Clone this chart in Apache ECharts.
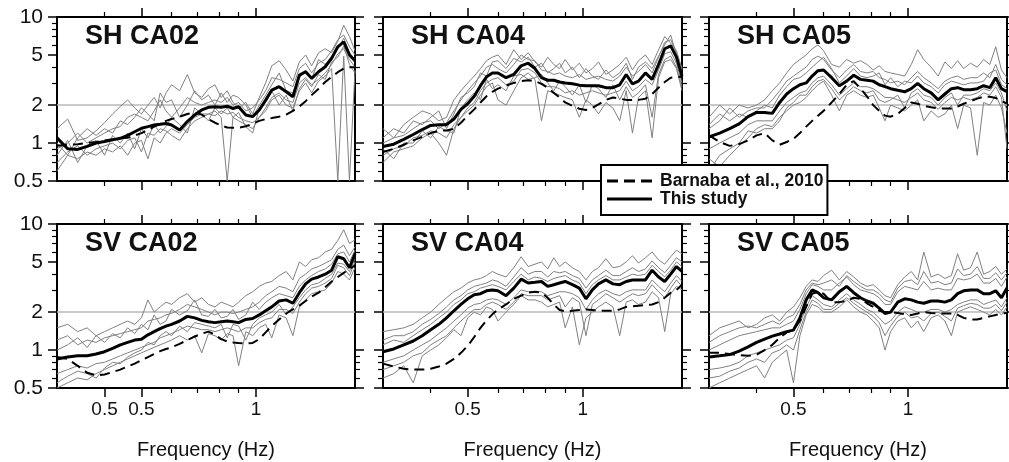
<!DOCTYPE html>
<html><head><meta charset="utf-8">
<script src="https://cdn.jsdelivr.net/npm/echarts@6/dist/echarts.min.js"></script>
<style>html,body{margin:0;padding:0;background:#fff}#c{width:1009px;height:462px}</style>
</head><body><div id="c"></div>
<script>
// ---------- data ----------
const freqHz = [0.30,0.32,0.34,0.36,0.38,0.40,0.42,0.44,0.46,0.48,0.50,0.52,0.54,0.56,0.58,0.60,0.63,0.66,0.69,0.72,0.75,0.78,0.81,0.84,0.87,0.90,0.94,0.98,1.02,1.06,1.10,1.15,1.20,1.25,1.30,1.35,1.40,1.46,1.52,1.58,1.64,1.70,1.76,1.82];
const xRange = [0.3, 1.82];
const yRange = [0.5, 10];
const refLevel = 2;
const yTicksMajor = [0.5, 1, 2, 5, 10];
const yTicksMinor = [0.6, 0.7, 0.8, 0.9, 3, 4, 6, 7, 8, 9];
const yTickLabels = ['0.5', '1', '2', '5', '10'];
const xTicksMajor = [0.5, 1];
const xTicksMinor = [0.4, 0.6, 0.7, 0.8, 0.9];
const xLabelValsFirst = [0.4, 0.5, 1];
const xLabelTextsFirst = ['0.5', '0.5', '1'];
const xLabelVals = [0.5, 1];
const xLabelTexts = ['0.5', '1'];
const panelTitles = ['SH CA02', 'SH CA04', 'SH CA05', 'SV CA02', 'SV CA04', 'SV CA05'];
const legendNames = ['Barnaba et al., 2010', 'This study'];
const xAxisName = 'Frequency (Hz)';

// SH CA02
const meanShCa02 = [1.1,0.9,0.89,0.94,1.0,1.03,1.06,1.09,1.15,1.23,1.31,1.35,1.39,1.41,1.43,1.39,1.27,1.48,1.67,1.83,1.92,1.94,1.92,1.96,1.88,1.94,1.67,1.62,1.83,2.19,2.63,2.8,2.55,2.33,3.46,3.68,3.26,3.68,4.03,4.7,5.8,6.35,5.0,4.5];
const barnabaShCa02 = [0.95,0.97,0.98,1.0,1.02,1.05,1.07,1.09,1.1,1.15,1.2,1.27,1.35,1.42,1.5,1.55,1.62,1.7,1.75,1.68,1.55,1.45,1.38,1.33,1.32,1.32,1.36,1.42,1.5,1.55,1.58,1.62,1.68,1.8,1.95,2.15,2.4,2.7,3.05,3.35,3.65,3.9,4.0,4.0];
const tracesShCa02 = [
 [1.3,1.55,1.05,1.1,1.25,1.45,1.7,1.95,2.2,1.9,1.7,2.0,2.3,1.9,2.5,2.9,2.6,3.5,2.5,2.3,2.7,2.9,2.3,2.6,2.1,1.9,2.1,1.7,2.3,3.0,4.1,4.5,3.8,3.1,4.4,5.0,4.1,5.2,5.6,5.2,6.4,8.6,7.0,5.4],
 [0.6,0.8,0.75,0.85,0.8,0.9,0.85,0.95,0.8,1.0,1.05,0.75,1.1,1.0,1.2,1.3,1.2,1.4,1.6,1.7,1.7,1.8,1.6,0.5,1.6,1.5,1.4,1.3,1.6,1.8,2.2,2.4,2.0,1.9,2.6,3.0,2.5,3.1,3.4,3.9,0.5,4.9,0.5,3.8],
 [0.9,1.0,1.2,1.0,1.1,1.2,1.3,1.35,1.6,1.7,1.6,1.5,1.8,2.2,1.8,1.6,1.9,2.3,2.1,2.0,2.1,2.2,2.1,2.3,2.0,2.1,1.8,1.9,2.2,2.6,3.3,3.2,3.0,2.8,3.9,4.3,3.6,4.3,4.6,5.4,6.6,7.2,5.8,5.0],
 [0.7,0.85,0.95,0.8,0.9,0.95,1.0,0.9,1.05,1.1,0.85,1.2,1.15,1.3,1.25,1.15,1.05,1.3,1.5,1.6,1.7,1.65,1.8,1.7,1.75,1.6,1.5,1.45,1.6,1.9,2.3,2.5,2.2,2.1,3.0,3.3,2.9,3.2,3.6,4.2,5.1,5.6,4.6,4.0],
 [1.0,0.8,1.1,1.3,1.15,1.3,1.2,1.5,1.4,1.6,1.9,1.7,1.5,2.5,2.1,2.2,1.6,2.0,2.6,2.2,2.4,2.0,2.5,2.1,2.4,2.3,2.0,1.6,2.0,2.4,2.9,3.6,2.6,2.5,3.3,3.8,3.2,4.6,4.2,4.9,5.6,6.8,5.2,4.6],
 [0.8,1.05,0.7,0.95,1.05,0.8,1.15,1.0,1.2,0.9,1.3,1.1,1.4,1.2,1.35,1.6,1.4,1.2,1.9,1.7,1.5,1.9,1.7,1.9,1.6,1.75,1.35,1.2,1.9,2.1,2.6,2.0,2.4,1.8,2.7,3.2,2.8,3.5,3.2,4.4,4.8,5.9,4.2,3.6]
];
// SH CA04
const meanShCa04 = [0.94,0.98,1.07,1.17,1.28,1.38,1.40,1.40,1.55,1.85,2.05,2.35,2.85,3.35,3.6,3.6,3.3,3.5,4.1,4.3,3.9,3.3,3.15,3.15,3.05,3.0,2.95,2.88,2.85,2.85,2.85,2.75,2.75,2.9,3.5,2.95,3.1,3.6,3.2,4.2,5.6,5.9,4.8,3.4];
const barnabaShCa04 = [0.85,0.9,0.97,1.05,1.12,1.2,1.25,1.26,1.3,1.45,1.65,1.85,2.1,2.35,2.55,2.7,2.85,3.0,3.1,3.15,3.1,2.95,2.75,2.5,2.3,2.1,1.97,1.87,1.83,1.9,2.03,2.2,2.3,2.25,2.2,2.2,2.2,2.25,2.45,2.75,3.05,3.3,3.35,3.35];
const tracesShCa04 = [
 [1.3,1.1,1.4,1.6,1.8,1.7,1.5,1.6,2.2,2.6,3.0,3.4,3.9,4.5,4.8,5.0,4.2,5.5,4.6,5.2,4.4,4.0,4.8,4.2,3.9,4.6,3.8,4.3,3.6,3.9,4.4,3.5,3.8,4.2,4.8,3.8,4.5,5.0,4.2,5.5,7.0,6.2,5.4,3.8],
 [0.7,0.85,0.9,0.95,1.1,1.2,1.0,0.8,1.3,1.6,1.8,2.0,2.4,2.8,3.0,2.2,2.0,2.6,3.3,3.6,3.2,1.5,2.6,2.5,2.4,2.3,2.2,1.6,2.2,2.0,1.7,2.1,1.9,1.5,2.6,1.2,2.3,2.6,1.1,3.3,4.4,4.6,3.9,2.6],
 [1.0,1.1,1.15,1.3,1.45,1.5,1.3,1.45,1.8,2.2,2.6,3.0,3.4,4.0,4.2,3.9,3.6,4.2,5.0,4.6,4.5,3.8,3.7,3.5,3.6,3.4,3.3,3.5,3.2,3.3,3.4,3.2,3.1,3.4,4.0,3.4,3.7,4.2,3.6,4.8,6.3,6.6,5.3,3.9],
 [0.8,0.9,0.95,1.1,1.15,1.25,1.2,1.1,1.4,1.6,1.9,2.1,2.6,3.0,3.2,3.3,2.9,3.1,3.8,3.9,3.6,3.0,2.8,2.8,2.7,2.5,2.6,2.4,2.5,2.6,2.5,2.4,2.5,2.6,3.1,2.6,2.8,3.2,2.9,3.8,5.1,5.3,4.3,3.0],
 [1.1,1.3,1.2,1.5,1.4,1.6,1.8,1.3,1.7,2.3,2.5,2.8,3.6,3.4,4.4,4.5,3.9,4.7,4.4,4.8,4.0,4.3,3.6,3.9,4.3,3.6,4.0,3.3,3.9,3.4,3.2,3.8,3.3,3.6,4.3,3.2,4.0,4.4,3.9,4.9,6.0,7.2,5.0,3.5],
 [0.9,0.75,1.0,1.0,1.25,1.1,1.35,1.25,1.2,1.9,2.2,2.5,2.2,3.2,2.7,2.9,2.6,3.4,3.5,3.2,3.3,3.5,3.0,2.6,3.1,2.8,2.4,2.9,2.1,2.9,2.7,2.3,2.9,2.2,2.8,2.3,2.5,2.9,1.6,3.5,4.6,4.9,4.0,2.8]
];
// SH CA05
const meanShCa05 = [1.12,1.2,1.3,1.42,1.62,1.75,1.75,1.72,2.1,2.45,2.7,2.9,3.0,3.4,3.75,3.8,3.3,2.85,3.1,3.45,3.2,3.15,3.1,2.9,2.8,2.7,2.62,2.55,2.7,2.97,2.7,2.5,2.2,2.45,2.7,2.75,2.65,2.65,2.7,2.85,2.75,3.3,2.7,2.55];
const barnabaShCa05 = [1.15,1.02,0.95,0.98,1.05,1.15,1.2,1.05,0.97,1.02,1.08,1.2,1.35,1.5,1.65,1.8,2.1,2.45,2.9,3.1,2.7,2.35,2.0,1.8,1.65,1.62,1.7,1.9,2.1,2.05,1.97,1.92,1.88,1.88,1.88,1.95,2.05,2.15,2.25,2.33,2.33,2.28,2.15,2.06];
const tracesShCa05 = [
 [1.6,2.0,1.7,2.0,1.9,2.0,2.2,2.6,3.0,3.6,4.2,4.6,5.0,5.6,6.0,5.4,4.2,4.0,4.6,4.3,4.5,4.2,3.8,4.1,3.7,3.6,3.5,3.4,4.2,5.5,4.6,4.0,3.4,4.4,3.9,4.5,3.9,4.3,4.0,4.6,4.2,5.8,3.8,3.3],
 [0.75,0.65,0.8,0.95,1.1,1.3,1.4,1.35,1.6,1.8,2.0,2.1,2.3,2.6,2.9,3.1,2.4,1.8,2.4,2.6,2.4,2.3,2.4,1.9,1.5,2.0,1.9,1.8,2.0,2.2,1.5,1.8,1.6,1.7,2.0,1.3,2.0,1.9,0.8,2.1,2.0,2.4,1.9,1.2],
 [1.3,1.5,1.9,1.6,1.8,1.9,1.9,2.2,2.6,3.1,3.4,3.7,4.0,4.6,4.9,4.6,3.8,3.3,3.8,4.2,3.7,3.6,3.7,3.3,3.2,3.0,3.1,2.9,3.3,3.7,3.3,3.0,2.7,3.1,3.3,3.4,3.2,3.3,3.3,3.6,3.3,4.2,3.2,2.9],
 [0.9,1.0,1.1,1.2,1.4,1.5,1.5,1.5,1.8,2.1,2.3,2.5,2.6,3.0,3.3,3.4,2.9,2.4,2.7,3.0,2.8,2.8,2.7,2.5,2.3,2.3,2.2,2.1,2.3,2.5,2.2,2.1,1.85,2.1,2.3,2.2,2.3,2.2,2.3,2.5,2.4,2.8,2.3,0.9],
 [1.4,1.7,1.5,1.7,1.6,1.8,2.0,1.9,2.4,2.8,3.2,3.3,3.6,4.0,4.4,4.8,3.9,3.0,3.4,3.9,3.4,3.3,3.4,3.6,2.9,3.3,2.8,3.1,3.0,3.4,3.0,2.8,2.5,2.9,3.1,3.0,2.9,3.0,3.0,3.1,3.6,3.8,2.9,2.7],
 [0.6,0.8,0.9,1.0,1.25,1.2,1.3,1.3,1.5,1.9,2.1,2.4,2.4,2.8,3.1,3.2,2.7,2.2,2.5,2.8,2.6,2.5,2.6,2.2,2.1,2.2,2.4,1.9,2.5,2.7,2.4,2.3,2.0,2.3,2.5,2.0,2.4,2.4,2.5,2.7,2.6,3.0,2.5,1.8]
];
// SV CA02
const meanSvCa02 = [0.85,0.88,0.9,0.9,0.93,0.97,1.03,1.1,1.15,1.2,1.22,1.32,1.4,1.48,1.55,1.6,1.7,1.85,1.8,1.72,1.68,1.65,1.68,1.7,1.68,1.65,1.75,1.78,1.9,2.05,2.2,2.45,2.5,2.35,2.85,3.35,3.65,3.8,4.0,4.3,5.5,5.3,4.5,5.8];
const barnabaSvCa02 = [0.88,0.85,0.75,0.66,0.63,0.64,0.67,0.7,0.74,0.78,0.83,0.88,0.93,0.98,1.02,1.05,1.12,1.2,1.28,1.35,1.4,1.33,1.22,1.17,1.15,1.14,1.13,1.14,1.22,1.38,1.55,1.75,1.95,2.1,2.25,2.45,2.65,2.85,3.15,3.5,3.8,4.1,4.4,4.7];
const tracesSvCa02 = [
 [1.5,1.6,1.4,1.5,1.3,1.4,1.5,1.6,1.7,1.6,1.8,2.5,2.0,2.2,2.4,2.3,2.6,2.8,2.4,2.6,2.3,2.2,2.4,2.3,2.2,2.4,2.7,2.9,3.2,3.4,3.5,3.9,4.2,3.6,5.0,4.6,5.2,5.4,6.0,6.3,7.4,9.0,7.0,7.5],
 [0.5,0.55,0.6,0.58,0.65,0.7,0.75,0.8,0.85,0.9,0.95,1.0,1.05,1.1,1.15,1.2,1.3,1.2,1.3,0.95,1.35,1.3,1.2,1.35,1.3,0.75,1.4,1.3,1.5,1.6,1.25,1.9,1.8,1.3,2.2,2.5,2.8,2.9,3.0,3.4,4.2,4.0,3.6,4.5],
 [1.2,1.3,1.1,1.2,1.15,1.25,1.3,1.35,1.4,1.45,1.5,1.7,1.75,1.8,1.9,1.95,2.1,2.3,2.2,2.1,2.0,1.9,2.0,2.0,1.95,2.0,2.1,2.2,2.4,2.7,2.9,3.2,3.1,2.9,3.7,4.0,4.4,4.6,4.9,5.2,6.3,6.8,5.6,6.6],
 [0.65,0.7,0.75,0.72,0.78,0.8,0.85,0.9,0.95,1.0,1.05,1.1,1.15,1.25,1.3,1.35,1.45,1.55,1.5,1.45,1.45,1.4,1.45,1.5,1.45,1.4,1.5,1.5,1.65,1.75,1.8,2.1,2.1,1.95,2.4,2.8,3.1,3.2,3.4,3.7,4.7,4.5,3.9,5.0],
 [1.0,1.1,1.25,1.05,1.3,1.15,1.35,1.25,1.5,1.35,1.6,1.45,1.9,1.6,1.7,2.1,1.9,2.05,2.5,1.9,1.85,2.1,1.8,1.85,2.1,1.75,1.9,2.4,2.1,2.4,2.6,2.8,2.7,2.6,3.2,3.6,3.9,4.2,4.4,4.8,5.8,6.0,5.0,6.2],
 [0.55,0.62,0.68,0.65,0.6,0.72,0.8,0.78,0.88,0.95,1.0,1.15,1.1,1.3,1.4,1.3,1.55,1.4,1.65,1.6,1.55,1.5,1.6,1.25,1.6,1.55,1.2,1.6,1.8,1.9,2.0,2.3,1.9,2.2,2.6,3.0,3.3,3.4,3.7,4.0,4.9,4.8,4.2,5.3]
];
// SV CA04
const meanSvCa04 = [0.97,1.02,1.1,1.18,1.3,1.45,1.6,1.8,2.05,2.3,2.55,2.75,2.8,2.95,3.0,2.95,2.7,3.1,3.65,3.4,3.45,3.5,3.2,3.3,3.4,3.5,3.3,3.1,2.55,3.0,3.35,3.6,3.35,3.3,3.5,3.6,3.6,3.6,4.3,3.8,3.5,4.0,4.6,4.2];
const barnabaSvCa04 = [0.78,0.74,0.71,0.7,0.7,0.71,0.74,0.78,0.85,0.95,1.08,1.27,1.5,1.72,1.92,2.1,2.3,2.55,2.7,2.85,2.9,2.85,2.6,2.3,2.08,2.03,2.05,2.08,2.1,2.08,2.05,2.05,2.05,2.1,2.2,2.22,2.25,2.28,2.3,2.4,2.6,2.85,3.0,3.3];
const tracesSvCa04 = [
 [1.4,1.45,1.5,1.6,1.8,2.0,2.3,2.6,2.9,3.1,3.4,3.6,3.7,3.9,4.2,4.0,3.8,4.5,5.5,4.6,4.8,5.0,4.4,5.4,4.6,5.0,4.5,4.2,3.6,4.2,4.5,5.3,4.5,4.6,5.0,5.6,4.9,5.4,6.0,5.2,4.8,5.5,6.2,5.8],
 [0.6,0.65,0.75,0.55,0.9,1.0,1.1,1.25,1.45,1.3,1.8,2.0,1.9,2.2,2.1,1.7,2.0,2.3,2.7,2.5,2.5,2.4,2.2,2.3,2.4,1.5,2.2,1.1,1.8,2.0,2.2,2.4,2.2,1.3,2.4,2.5,2.3,2.4,2.9,2.6,1.4,2.8,3.2,3.0],
 [1.2,1.3,1.3,1.4,1.6,1.75,1.95,2.2,2.5,2.7,3.0,3.2,3.3,3.4,3.6,3.5,3.2,3.8,4.5,4.0,4.2,4.2,3.8,4.2,4.1,4.2,3.9,3.7,3.1,3.6,3.9,4.3,3.9,3.9,4.2,4.5,4.2,4.4,5.1,4.5,4.1,4.7,5.4,5.0],
 [0.8,0.85,0.9,1.0,1.1,1.2,1.35,1.5,1.7,1.9,2.15,2.3,2.35,2.5,2.55,2.5,2.3,2.6,3.0,2.9,2.9,2.9,2.7,2.8,2.9,2.9,2.8,2.6,2.1,2.5,2.8,3.0,2.8,2.7,2.9,3.0,3.0,3.0,3.6,3.2,2.9,3.4,3.9,3.5],
 [1.1,1.2,1.15,1.3,1.45,1.6,1.8,2.0,2.3,2.5,2.8,2.9,3.1,3.2,3.3,3.2,3.0,3.5,4.0,3.6,3.8,3.7,3.5,3.7,3.8,3.9,3.6,3.4,2.8,3.3,3.6,3.9,3.6,3.6,3.8,4.0,3.9,4.0,4.7,4.2,3.8,4.3,5.0,4.6],
 [0.7,0.75,0.8,0.9,0.95,1.1,1.2,1.3,1.5,1.7,1.9,2.1,2.1,2.3,2.4,2.3,2.1,2.4,2.8,2.7,2.7,2.7,2.5,2.6,2.7,2.2,2.6,2.4,1.3,2.3,2.5,2.8,2.6,2.4,2.6,2.8,2.7,2.8,3.3,2.9,2.6,3.1,3.6,3.2]
];
// SV CA05
const meanSvCa05 = [0.88,0.9,0.92,0.98,1.06,1.15,1.22,1.29,1.34,1.4,1.44,1.8,2.5,3.0,2.85,2.6,2.5,2.9,3.2,2.85,2.6,2.45,2.35,2.15,1.95,2.0,2.4,2.55,2.5,2.4,2.35,2.45,2.45,2.4,2.5,2.8,2.95,3.0,3.0,2.8,2.8,2.95,2.6,3.1];
const barnabaSvCa05 = [0.95,0.95,0.93,0.91,0.9,0.92,1.0,1.1,1.25,1.38,1.45,1.7,2.2,2.8,2.9,2.8,2.4,2.4,2.45,2.6,2.55,2.35,2.2,2.05,2.0,2.0,1.97,1.93,1.9,1.95,2.0,1.97,1.95,1.95,1.95,1.9,1.8,1.75,1.75,1.8,1.85,1.9,1.95,1.97];
const tracesSvCa05 = [
 [1.3,1.5,1.6,1.7,1.5,1.6,1.8,1.9,1.7,2.0,2.2,2.6,3.2,3.6,3.5,3.9,4.3,3.6,4.2,3.8,3.4,3.2,3.3,3.0,2.7,2.6,3.3,3.8,4.2,3.6,6.0,3.8,4.0,3.7,3.9,5.8,4.3,4.5,6.0,4.0,4.2,4.6,4.0,4.4],
 [0.5,0.55,0.6,0.65,0.7,0.75,0.6,0.8,0.9,1.0,0.55,1.3,1.9,2.3,2.2,2.0,2.0,2.2,2.5,2.2,2.0,1.9,1.7,1.5,1.0,1.4,1.7,1.8,1.5,1.7,1.4,1.8,1.9,1.7,1.3,2.0,2.1,2.2,2.1,2.0,1.9,2.1,1.9,2.2],
 [1.0,1.1,1.2,1.3,1.35,1.4,1.45,1.5,1.5,1.6,1.7,2.1,2.8,3.3,3.2,3.0,3.0,3.4,3.8,3.3,3.0,2.9,2.8,2.6,2.3,2.3,2.9,3.2,3.1,3.0,3.5,3.0,3.1,3.0,3.0,3.7,3.6,3.7,4.0,3.4,3.4,3.7,3.2,3.8],
 [0.7,0.72,0.75,0.8,0.9,0.95,1.0,1.05,1.1,1.2,1.25,1.6,2.2,2.7,2.5,2.3,2.2,2.5,2.8,2.5,2.3,2.1,2.0,1.8,1.6,1.7,2.0,2.2,2.1,2.0,2.0,2.1,2.1,2.0,2.1,2.3,2.4,2.5,2.5,2.3,2.4,2.5,2.2,2.6],
 [1.15,1.3,1.4,1.5,1.55,1.5,1.6,1.7,1.6,1.8,1.9,2.3,3.0,3.4,3.3,3.4,3.6,3.2,3.9,3.5,3.2,3.0,3.0,2.8,2.5,2.4,3.1,3.5,3.6,3.3,4.2,3.4,3.5,3.3,3.4,4.4,3.9,4.0,4.6,3.7,3.7,4.1,3.6,4.1],
 [0.6,0.62,0.68,0.72,0.8,0.85,0.8,0.95,1.0,1.1,1.0,1.45,2.0,2.5,2.35,2.1,2.1,2.35,2.6,2.35,2.15,2.0,1.85,1.65,1.3,1.55,1.85,2.0,1.8,1.85,1.7,1.95,2.0,1.85,1.7,2.15,2.25,2.35,2.3,2.15,2.15,2.3,2.05,2.4]
];

// ---------- chart ----------
const FONT = '"Liberation Sans", Arial, Helvetica, sans-serif';
const panels = [
  {mean: meanShCa02, barnaba: barnabaShCa02, traces: tracesShCa02},
  {mean: meanShCa04, barnaba: barnabaShCa04, traces: tracesShCa04},
  {mean: meanShCa05, barnaba: barnabaShCa05, traces: tracesShCa05},
  {mean: meanSvCa02, barnaba: barnabaSvCa02, traces: tracesSvCa02},
  {mean: meanSvCa04, barnaba: barnabaSvCa04, traces: tracesSvCa04},
  {mean: meanSvCa05, barnaba: barnabaSvCa05, traces: tracesSvCa05}
];
const colLeft = [57, 383, 709];
const colWidth = [298, 299, 298];
const rowTop = [17, 224];
const panelHeight = 164;
const X_PER = 5, Y_PER = 4;

const grids = [], xAxes = [], yAxes = [], series = [], titles = [];
const pairs = arr => freqHz.map((f, k) => [f, arr[k]]);
function pickLabel(vals, texts) {
  return v => { for (let k = 0; k < vals.length; k++) if (Math.abs(vals[k] - v) < 1e-6) return texts[k]; return ''; };
}
const majorTick = vals => ({show: true, inside: false, length: 9, customValues: vals.slice(), lineStyle: {color: '#000', width: 1.5}});
const minorTickDef = vals => ({show: true, inside: false, length: 5, customValues: vals.slice(), lineStyle: {color: '#000', width: 1.2}});

panels.forEach((p, i) => {
  const r = Math.floor(i / 3), c = i % 3;
  const bottomRow = r === 1, leftCol = c === 0;
  grids.push({left: colLeft[c], top: rowTop[r], width: colWidth[c], height: panelHeight, show: false});
  const xBase = () => ({type: 'log', logBase: 10, min: xRange[0], max: xRange[1], gridIndex: i,
    splitLine: {show: false}, minorTick: {show: false}, minorSplitLine: {show: false}});
  const first = i === 3;
  const lblVals = first ? xLabelValsFirst : xLabelVals;
  const lblTexts = first ? xLabelTextsFirst : xLabelTexts;
  const majX = first ? xLabelValsFirst : xTicksMajor;
  const minX = first ? xTicksMinor.filter(v => xLabelValsFirst.indexOf(v) < 0) : xTicksMinor;
  // bottom data axis: line, labels, name
  xAxes.push(Object.assign(xBase(), {position: 'bottom',
    axisLine: {show: true, onZero: false, lineStyle: {color: '#000', width: 2}},
    axisTick: {show: false},
    axisLabel: {show: bottomRow, customValues: lblVals.slice(), formatter: pickLabel(lblVals, lblTexts), margin: 12,
      color: '#111', fontSize: 19, fontFamily: FONT},
    name: bottomRow ? xAxisName : '', nameLocation: 'middle', nameGap: 52,
    nameTextStyle: {color: '#111', fontSize: 20, fontFamily: FONT}}));
  // bottom major ticks
  xAxes.push(Object.assign(xBase(), {position: 'bottom',
    axisLine: {show: false, onZero: false}, axisLabel: {show: false}, axisTick: majorTick(majX)}));
  // bottom minor ticks
  xAxes.push(Object.assign(xBase(), {position: 'bottom',
    axisLine: {show: false, onZero: false}, axisLabel: {show: false}, axisTick: minorTickDef(minX)}));
  // top major
  xAxes.push(Object.assign(xBase(), {position: 'top',
    axisLine: {show: true, onZero: false, lineStyle: {color: '#000', width: 2}}, axisLabel: {show: false},
    axisTick: majorTick(xTicksMajor)}));
  // top minor
  xAxes.push(Object.assign(xBase(), {position: 'top',
    axisLine: {show: false, onZero: false}, axisLabel: {show: false}, axisTick: minorTickDef(xTicksMinor)}));

  const yBase = () => ({type: 'log', logBase: 10, min: yRange[0], max: yRange[1], gridIndex: i,
    splitLine: {show: false}, minorTick: {show: false}, minorSplitLine: {show: false}});
  yAxes.push(Object.assign(yBase(), {position: 'left',
    axisLine: {show: true, onZero: false, lineStyle: {color: '#000', width: 2}},
    axisTick: majorTick(yTicksMajor),
    axisLabel: {show: leftCol, customValues: yTicksMajor.slice(), formatter: pickLabel(yTicksMajor, yTickLabels),
      margin: 14, color: '#111', fontSize: 21, fontFamily: FONT}}));
  yAxes.push(Object.assign(yBase(), {position: 'left',
    axisLine: {show: false, onZero: false}, axisLabel: {show: false}, axisTick: minorTickDef(yTicksMinor)}));
  yAxes.push(Object.assign(yBase(), {position: 'right',
    axisLine: {show: true, onZero: false, lineStyle: {color: '#000', width: 2}}, axisLabel: {show: false},
    axisTick: majorTick(yTicksMajor)}));
  yAxes.push(Object.assign(yBase(), {position: 'right',
    axisLine: {show: false, onZero: false}, axisLabel: {show: false}, axisTick: minorTickDef(yTicksMinor)}));

  const xi = X_PER * i, yi = Y_PER * i;
  p.traces.forEach((t, k) => {
    const s = {type: 'line', xAxisIndex: xi, yAxisIndex: yi, data: pairs(t), symbol: 'none', silent: true,
      lineStyle: {color: '#808080', width: 1}, z: 2};
    if (k === 0) s.markLine = {silent: true, symbol: 'none', label: {show: false},
      lineStyle: {color: '#b8b8b8', width: 1.6, type: 'solid'}, data: [{yAxis: refLevel}], z: 1};
    series.push(s);
  });
  series.push({name: legendNames[0], type: 'line', xAxisIndex: xi, yAxisIndex: yi, data: pairs(p.barnaba),
    symbol: 'none', color: '#000', lineStyle: {color: '#000', width: 2, type: [10, 6]}, z: 3});
  series.push({name: legendNames[1], type: 'line', xAxisIndex: xi, yAxisIndex: yi, data: pairs(p.mean),
    symbol: 'none', color: '#000', lineStyle: {color: '#000', width: 3}, z: 4});

  titles.push({text: panelTitles[i], left: colLeft[c] + 28, top: rowTop[r] + 6, padding: 0,
    textStyle: {fontSize: 27, fontWeight: 'bold', color: '#111', fontFamily: FONT}});
});

const option = {
  animation: false,
  title: titles,
  grid: grids,
  xAxis: xAxes,
  yAxis: yAxes,
  legend: {
    orient: 'vertical', left: 601, top: 165, padding: [7, 4, 7, 6], itemGap: 0,
    itemWidth: 45, itemHeight: 3, selectedMode: false,
    backgroundColor: '#fff', borderColor: '#000', borderWidth: 2, borderRadius: 0,
    textStyle: {fontSize: 17.5, fontWeight: 'bold', color: '#111', fontFamily: FONT, padding: [0, 0, 0, 3]},
    data: [
      {name: legendNames[0], icon: 'path://M0,0h11v3h-11z M17,0h11v3h-11z M34,0h11v3h-11z'},
      {name: legendNames[1], icon: 'path://M0,0h45v3h-45z'}
    ]
  },
  series: series
};
const chart = echarts.init(document.getElementById('c'), null, {renderer: 'canvas'});
chart.setOption(option);
</script>
</body></html>
